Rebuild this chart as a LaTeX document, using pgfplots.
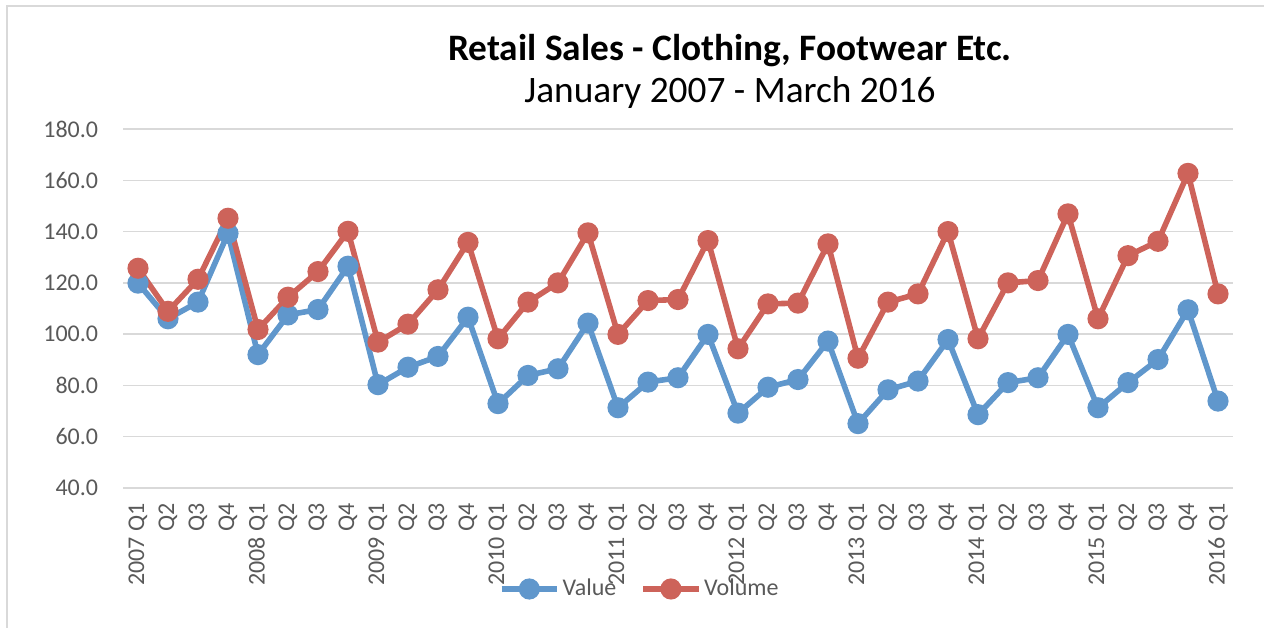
\documentclass[border=0pt]{standalone}
\usepackage{pgfplots}
\usepackage{pgfplotstable}
\pgfplotsset{compat=1.18}
\usepackage{fontspec}
\setmainfont{Carlito}

\definecolor{valblue}{RGB}{96,151,204}
\definecolor{volred}{RGB}{205,99,90}
\definecolor{txtgray}{RGB}{89,89,89}
\definecolor{gridgray}{RGB}{217,217,217}

% quarter index, value index, volume index
\pgfplotstableread{
q value volume
0  119.9 125.7
1  106.0 108.9
2  112.5 121.4
3  139.3 145.2
4  92.0  101.8
5  107.5 114.4
6  109.6 124.4
7  126.5 140.1
8  80.3  96.9
9  87.1  103.9
10 91.3  117.3
11 106.6 135.8
12 72.9  98.2
13 83.9  112.5
14 86.5  120.0
15 104.3 139.5
16 71.3  99.9
17 81.3  113.1
18 83.0  113.5
19 99.9  136.5
20 69.2  94.3
21 79.3  111.8
22 82.3  112.1
23 97.3  135.2
24 65.1  90.6
25 78.3  112.5
26 81.7  115.7
27 97.9  140.0
28 68.6  98.2
29 81.1  120.0
30 83.0  120.9
31 99.9  146.9
32 71.3  106.0
33 81.1  130.6
34 90.1  136.2
35 109.5 162.7
36 73.9  115.7
}\sales

\begin{document}
\begin{tikzpicture}[x=0.375pt,y=-0.375pt]
\path[use as bounding box] (0,0) rectangle (1264,628);
\draw[gridgray, line width=0.6pt] (7,628) -- (7,6) -- (1264,6);
\node[anchor=base, font=\fontsize{14}{16}\selectfont\bfseries] at (730,60) {Retail Sales - Clothing, Footwear Etc.};
\node[anchor=base, font=\fontsize{14}{16}\selectfont] at (730,102) {January 2007 - March 2016};

\begin{axis}[
  at={(46.125pt,-183pt)}, anchor=south west,
  width=416.25pt, height=134.625pt, scale only axis,
  xmin=-0.5, xmax=36.5, ymin=40, ymax=180,
  clip=false,
  axis line style={draw=none},
  major tick length=0pt,
  ymajorgrids, grid style={gridgray, line width=0.55pt},
  ytick={40,60,...,180},
  /pgf/number format/fixed, /pgf/number format/fixed zerofill,
  /pgf/number format/precision=1, /pgf/number format/assume math mode=true,
  yticklabel style={anchor=east, xshift=-5.8pt},
  xtick={0,...,36},
  xticklabels={2007 Q1,Q2,Q3,Q4,2008 Q1,Q2,Q3,Q4,2009 Q1,Q2,Q3,Q4,2010 Q1,Q2,Q3,Q4,2011 Q1,Q2,Q3,Q4,2012 Q1,Q2,Q3,Q4,2013 Q1,Q2,Q3,Q4,2014 Q1,Q2,Q3,Q4,2015 Q1,Q2,Q3,Q4,2016 Q1},
  xticklabel style={rotate=90, anchor=east, inner xsep=5.6pt},
  tick label style={font=\fontsize{9}{11}\selectfont, text=txtgray},
  legend columns=2,
  legend style={at={(0.4658,-0.2813)}, anchor=center, draw=none, fill=none,
    font=\fontsize{9}{11}\selectfont, text=txtgray,
    nodes={inner sep=1pt},
    /tikz/every even column/.append style={column sep=8pt}},
  legend image code/.code={\draw[mark repeat=2, mark phase=2] plot coordinates {(0pt,0pt) (10.4pt,0pt) (20.8pt,0pt)};},
  every axis plot/.append style={line width=2.1pt, mark=*, mark size=2.9pt},
]
\addplot[color=valblue, mark options={fill=valblue, draw=valblue}] table[x=q, y=value] {\sales};
\addlegendentry{Value}
\addplot[color=volred, mark options={fill=volred, draw=volred}] table[x=q, y=volume] {\sales};
\addlegendentry{Volume}
\end{axis}
\end{tikzpicture}
\end{document}
